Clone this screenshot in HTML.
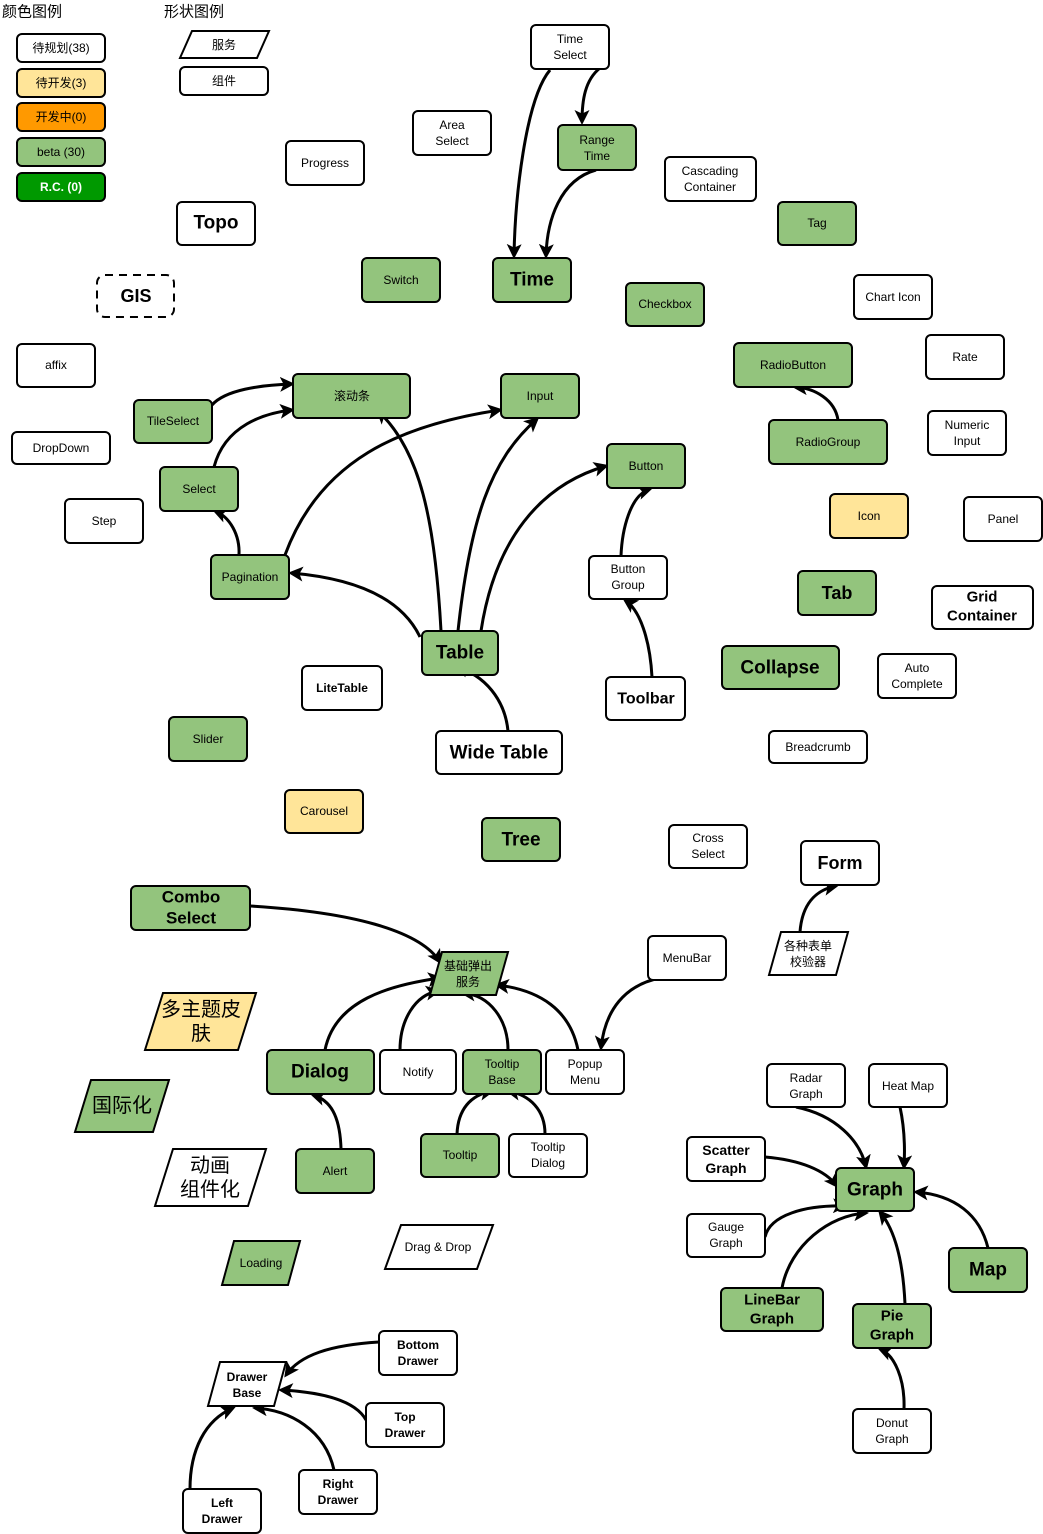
<!DOCTYPE html>
<html><head><meta charset="utf-8"><style>
html,body{margin:0;padding:0;background:#fff}
svg{display:block}
text{font-family:"Liberation Sans","Noto Sans CJK SC",sans-serif;text-anchor:middle;dominant-baseline:central;fill:#000}
.b{font-weight:bold}
rect,polygon{stroke:#000;stroke-width:2}
path{fill:none;stroke:#000;stroke-width:3}
</style></head><body>
<svg width="1043" height="1534" viewBox="0 0 1043 1534" xmlns="http://www.w3.org/2000/svg">
<defs><marker id="a" markerWidth="5" markerHeight="5" refX="4" refY="2.5" orient="auto" markerUnits="strokeWidth"><path d="M0,0 L5,2.5 L0,5 L1.2,2.5 Z" style="fill:#000;stroke:none"/></marker></defs>
<g style="marker-end:url(#a)">
<path d="M550,70 C525,100 515,200 514,256"/>
<path d="M600,68 C585,80 582,100 582,122"/>
<path d="M596,170 C560,180 547,220 546,256"/>
<path d="M838,420 C835,400 815,388 795,387"/>
<path d="M212,405 C225,390 260,385 292,384"/>
<path d="M214,467 C225,425 265,413 292,410"/>
<path d="M239,555 C240,535 230,517 215,511"/>
<path d="M420,637 C400,595 350,578 291,573"/>
<path d="M441,631 C435,520 420,450 378,411"/>
<path d="M285,555 C320,460 400,425 500,410"/>
<path d="M458,631 C470,520 490,460 537,419"/>
<path d="M481,631 C495,540 540,485 606,466"/>
<path d="M621,556 C622,530 630,495 650,489"/>
<path d="M652,677 C650,640 640,610 625,600"/>
<path d="M508,731 C505,700 485,675 456,667"/>
<path d="M800,932 C802,905 815,890 836,886"/>
<path d="M250,906 C350,912 420,930 440,962"/>
<path d="M325,1050 C335,1000 390,985 440,978"/>
<path d="M400,1050 C400,1020 415,995 438,991"/>
<path d="M508,1050 C508,1020 490,995 463,993"/>
<path d="M578,1050 C570,1010 540,990 497,985"/>
<path d="M660,978 C625,985 605,1010 601,1048"/>
<path d="M341,1149 C340,1115 330,1100 313,1095"/>
<path d="M457,1134 C458,1110 470,1095 492,1091"/>
<path d="M545,1134 C545,1110 530,1095 508,1091"/>
<path d="M796,1107 C835,1115 860,1140 866,1167"/>
<path d="M900,1107 C905,1130 905,1150 904,1167"/>
<path d="M765,1157 C800,1160 825,1170 837,1186"/>
<path d="M765,1237 C770,1215 805,1205 845,1206"/>
<path d="M782,1288 C790,1245 830,1215 866,1213"/>
<path d="M905,1304 C903,1260 895,1230 880,1212"/>
<path d="M988,1248 C980,1215 955,1195 916,1192"/>
<path d="M904,1409 C905,1380 895,1355 880,1349"/>
<path d="M379,1342 C330,1345 300,1355 286,1375"/>
<path d="M366,1420 C355,1400 320,1392 281,1390"/>
<path d="M334,1470 C325,1430 290,1410 255,1408"/>
<path d="M190,1489 C190,1450 205,1420 233,1408"/>
</g>

<text x="32" y="12" style="font-size:15px">颜色图例</text>
<text x="194" y="12" style="font-size:15px">形状图例</text>

<g style="font-size:12px">
<rect x="17" y="34" width="88" height="28" rx="5" fill="#fff"/><text x="61" y="48">待规划(38)</text>
<rect x="17" y="69" width="88" height="28" rx="5" fill="#ffe599"/><text x="61" y="83">待开发(3)</text>
<rect x="17" y="103" width="88" height="28" rx="5" fill="#ff9900"/><text x="61" y="117">开发中(0)</text>
<rect x="17" y="138" width="88" height="28" rx="5" fill="#93c47d"/><text x="61" y="152">beta (30)</text>
<rect x="17" y="173" width="88" height="28" rx="5" fill="#009900"/><text x="61" y="187" class="b" style="fill:#fff">R.C. (0)</text>
<polygon points="192,31 269,31 257,58 180,58" fill="#fff"/><text x="224" y="45">服务</text>
<rect x="180" y="67" width="88" height="28" rx="5" fill="#fff"/><text x="224" y="81">组件</text>

<rect x="531" y="25" width="78" height="44" rx="5" fill="#fff"/><text x="570" y="39">Time</text><text x="570" y="55">Select</text>
<rect x="413" y="111" width="78" height="44" rx="5" fill="#fff"/><text x="452" y="125">Area</text><text x="452" y="141">Select</text>
<rect x="286" y="141" width="78" height="44" rx="5" fill="#fff"/><text x="325" y="163">Progress</text>
<rect x="558" y="125" width="78" height="45" rx="5" fill="#93c47d"/><text x="597" y="140">Range</text><text x="597" y="156">Time</text>
<rect x="665" y="157" width="91" height="44" rx="5" fill="#fff"/><text x="710" y="171">Cascading</text><text x="710" y="187">Container</text>
<rect x="177" y="202" width="78" height="43" rx="5" fill="#fff"/><text x="216" y="223" class="b" style="font-size:19px">Topo</text>
<rect x="778" y="202" width="78" height="43" rx="5" fill="#93c47d"/><text x="817" y="223">Tag</text>
<rect x="97" y="275" width="77" height="42" rx="8" fill="#fff" style="stroke-dasharray:8 6"/><text x="136" y="296" class="b" style="font-size:18px">GIS</text>
<rect x="362" y="258" width="78" height="44" rx="5" fill="#93c47d"/><text x="401" y="280">Switch</text>
<rect x="493" y="258" width="78" height="44" rx="5" fill="#93c47d"/><text x="532" y="280" class="b" style="font-size:19px">Time</text>
<rect x="626" y="283" width="78" height="43" rx="5" fill="#93c47d"/><text x="665" y="304">Checkbox</text>
<rect x="854" y="275" width="78" height="44" rx="5" fill="#fff"/><text x="893" y="297">Chart Icon</text>
<rect x="17" y="344" width="78" height="43" rx="5" fill="#fff"/><text x="56" y="365">affix</text>
<rect x="734" y="343" width="118" height="44" rx="5" fill="#93c47d"/><text x="793" y="365">RadioButton</text>
<rect x="926" y="335" width="78" height="44" rx="5" fill="#fff"/><text x="965" y="357">Rate</text>
<rect x="134" y="400" width="78" height="43" rx="5" fill="#93c47d"/><text x="173" y="421">TileSelect</text>
<rect x="293" y="374" width="117" height="44" rx="5" fill="#93c47d"/><text x="352" y="396">滚动条</text>
<rect x="501" y="374" width="78" height="44" rx="5" fill="#93c47d"/><text x="540" y="396">Input</text>
<rect x="769" y="420" width="118" height="44" rx="5" fill="#93c47d"/><text x="828" y="442">RadioGroup</text>
<rect x="928" y="411" width="78" height="44" rx="5" fill="#fff"/><text x="967" y="425">Numeric</text><text x="967" y="441">Input</text>
<rect x="12" y="432" width="98" height="32" rx="5" fill="#fff"/><text x="61" y="448">DropDown</text>
<rect x="160" y="467" width="78" height="44" rx="5" fill="#93c47d"/><text x="199" y="489">Select</text>
<rect x="607" y="444" width="78" height="44" rx="5" fill="#93c47d"/><text x="646" y="466">Button</text>
<rect x="65" y="499" width="78" height="44" rx="5" fill="#fff"/><text x="104" y="521">Step</text>
<rect x="830" y="494" width="78" height="44" rx="5" fill="#ffe599"/><text x="869" y="516">Icon</text>
<rect x="964" y="497" width="78" height="44" rx="5" fill="#fff"/><text x="1003" y="519">Panel</text>
<rect x="211" y="555" width="78" height="44" rx="5" fill="#93c47d"/><text x="250" y="577">Pagination</text>
<rect x="589" y="556" width="78" height="43" rx="5" fill="#fff"/><text x="628" y="569">Button</text><text x="628" y="585">Group</text>
<rect x="798" y="571" width="78" height="44" rx="5" fill="#93c47d"/><text x="837" y="593" class="b" style="font-size:18px">Tab</text>
<rect x="932" y="586" width="101" height="43" rx="5" fill="#fff"/><text x="982" y="597" class="b" style="font-size:15px">Grid</text><text x="982" y="616" class="b" style="font-size:15px">Container</text>
<rect x="722" y="646" width="117" height="43" rx="5" fill="#93c47d"/><text x="780" y="668" class="b" style="font-size:19px">Collapse</text>
<rect x="422" y="631" width="76" height="44" rx="5" fill="#93c47d"/><text x="460" y="653" class="b" style="font-size:19px">Table</text>
<rect x="606" y="677" width="79" height="43" rx="5" fill="#fff"/><text x="646" y="699" class="b" style="font-size:16px">Toolbar</text>
<rect x="878" y="654" width="78" height="44" rx="5" fill="#fff"/><text x="917" y="668">Auto</text><text x="917" y="684">Complete</text>
<rect x="302" y="666" width="80" height="44" rx="5" fill="#fff"/><text x="342" y="688" class="b">LiteTable</text>
<rect x="169" y="717" width="78" height="44" rx="5" fill="#93c47d"/><text x="208" y="739">Slider</text>
<rect x="436" y="731" width="126" height="43" rx="5" fill="#fff"/><text x="499" y="753" class="b" style="font-size:19px">Wide Table</text>
<rect x="769" y="731" width="98" height="32" rx="5" fill="#fff"/><text x="818" y="747">Breadcrumb</text>
<rect x="285" y="790" width="78" height="43" rx="5" fill="#ffe599"/><text x="324" y="811">Carousel</text>
<rect x="482" y="818" width="78" height="43" rx="5" fill="#93c47d"/><text x="521" y="840" class="b" style="font-size:19px">Tree</text>
<rect x="669" y="825" width="78" height="43" rx="5" fill="#fff"/><text x="708" y="838">Cross</text><text x="708" y="854">Select</text>
<rect x="801" y="841" width="78" height="44" rx="5" fill="#fff"/><text x="840" y="863" class="b" style="font-size:18px">Form</text>
<rect x="131" y="886" width="119" height="44" rx="5" fill="#93c47d"/><text x="191" y="897" class="b" style="font-size:17px">Combo</text><text x="191" y="918" class="b" style="font-size:17px">Select</text>
<polygon points="781,932 848,932 836,975 769,975" fill="#fff"/><text x="808" y="946">各种表单</text><text x="808" y="962">校验器</text>
<rect x="648" y="936" width="78" height="44" rx="5" fill="#fff"/><text x="687" y="958">MenuBar</text>
<polygon points="442,952 508,952 496,995 430,995" fill="#93c47d"/><text x="468" y="966">基础弹出</text><text x="468" y="982">服务</text>
<polygon points="163,993 256,993 238,1050 145,1050" fill="#ffe599"/><text x="201" y="1010" style="font-size:20px">多主题皮</text><text x="201" y="1034" style="font-size:20px">肤</text>
<polygon points="91,1080 169,1080 153,1132 75,1132" fill="#93c47d"/><text x="122" y="1106" style="font-size:20px">国际化</text>
<rect x="267" y="1050" width="107" height="44" rx="5" fill="#93c47d"/><text x="320" y="1072" class="b" style="font-size:19px">Dialog</text>
<rect x="380" y="1050" width="76" height="44" rx="5" fill="#fff"/><text x="418" y="1072">Notify</text>
<rect x="463" y="1050" width="78" height="44" rx="5" fill="#93c47d"/><text x="502" y="1064">Tooltip</text><text x="502" y="1080">Base</text>
<rect x="546" y="1050" width="78" height="44" rx="5" fill="#fff"/><text x="585" y="1064">Popup</text><text x="585" y="1080">Menu</text>
<rect x="767" y="1064" width="78" height="43" rx="5" fill="#fff"/><text x="806" y="1078">Radar</text><text x="806" y="1094">Graph</text>
<rect x="869" y="1064" width="78" height="43" rx="5" fill="#fff"/><text x="908" y="1086">Heat Map</text>
<rect x="421" y="1134" width="78" height="43" rx="5" fill="#93c47d"/><text x="460" y="1155">Tooltip</text>
<rect x="509" y="1134" width="78" height="43" rx="5" fill="#fff"/><text x="548" y="1147">Tooltip</text><text x="548" y="1163">Dialog</text>
<rect x="296" y="1149" width="78" height="44" rx="5" fill="#93c47d"/><text x="335" y="1171">Alert</text>
<polygon points="173,1149 266,1149 248,1206 155,1206" fill="#fff"/><text x="210" y="1166" style="font-size:20px">动画</text><text x="210" y="1190" style="font-size:20px">组件化</text>
<rect x="687" y="1137" width="78" height="44" rx="5" fill="#fff"/><text x="726" y="1150" class="b" style="font-size:14px">Scatter</text><text x="726" y="1168" class="b" style="font-size:14px">Graph</text>
<rect x="836" y="1168" width="78" height="43" rx="5" fill="#93c47d"/><text x="875" y="1190" class="b" style="font-size:19px">Graph</text>
<rect x="687" y="1214" width="78" height="43" rx="5" fill="#fff"/><text x="726" y="1227">Gauge</text><text x="726" y="1243">Graph</text>
<polygon points="401,1225 493,1225 477,1269 385,1269" fill="#fff"/><text x="438" y="1247">Drag &amp; Drop</text>
<polygon points="234,1241 300,1241 288,1285 222,1285" fill="#93c47d"/><text x="261" y="1263">Loading</text>
<rect x="949" y="1248" width="78" height="44" rx="5" fill="#93c47d"/><text x="988" y="1270" class="b" style="font-size:19px">Map</text>
<rect x="721" y="1288" width="102" height="43" rx="5" fill="#93c47d"/><text x="772" y="1300" class="b" style="font-size:15px">LineBar</text><text x="772" y="1319" class="b" style="font-size:15px">Graph</text>
<rect x="853" y="1304" width="78" height="44" rx="5" fill="#93c47d"/><text x="892" y="1316" class="b" style="font-size:15px">Pie</text><text x="892" y="1335" class="b" style="font-size:15px">Graph</text>
<rect x="379" y="1331" width="78" height="44" rx="5" fill="#fff"/><text x="418" y="1345" class="b">Bottom</text><text x="418" y="1361" class="b">Drawer</text>
<polygon points="220,1362 286,1362 274,1406 208,1406" fill="#fff"/><text x="247" y="1377" class="b">Drawer</text><text x="247" y="1393" class="b">Base</text>
<rect x="366" y="1403" width="78" height="44" rx="5" fill="#fff"/><text x="405" y="1417" class="b">Top</text><text x="405" y="1433" class="b">Drawer</text>
<rect x="853" y="1409" width="78" height="44" rx="5" fill="#fff"/><text x="892" y="1423">Donut</text><text x="892" y="1439">Graph</text>
<rect x="299" y="1470" width="78" height="44" rx="5" fill="#fff"/><text x="338" y="1484" class="b">Right</text><text x="338" y="1500" class="b">Drawer</text>
<rect x="183" y="1489" width="78" height="44" rx="5" fill="#fff"/><text x="222" y="1503" class="b">Left</text><text x="222" y="1519" class="b">Drawer</text>
</g>
</svg>
</body></html>
